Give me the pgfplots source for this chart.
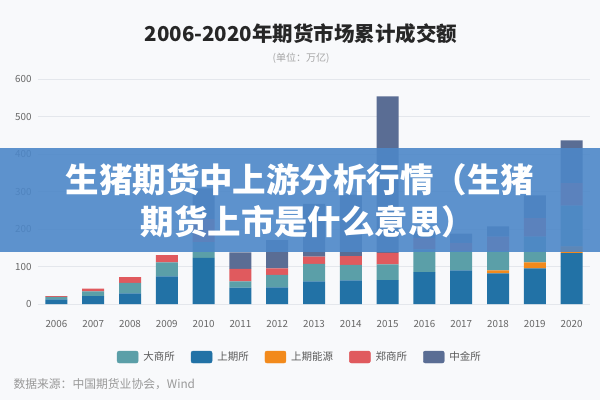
\documentclass[border=0pt]{standalone}
\usepackage{pgfplots}
\pgfplotsset{compat=1.18}
\usepackage{pgfplotstable}
\usepackage{fontspec}
\setmainfont{Noto Sans CJK SC}
\definecolor{bgcol}{HTML}{F8F9FB}
\definecolor{gridcol}{HTML}{E4E7EC}
\definecolor{labelcol}{HTML}{666666}
\definecolor{dce}{HTML}{5B9FA8}
\definecolor{shfe}{HTML}{2272A6}
\definecolor{ine}{HTML}{F28A1C}
\definecolor{zce}{HTML}{E05A5E}
\definecolor{cffex}{HTML}{5A6D94}
\definecolor{bannercol}{HTML}{4D87C8}

\pgfplotstableread{
idx shfe  ine  dce   zce   cffex
0   12.6  0    6.3   2.1   0
1   21.3  0    12.7  7.0   0
2   28.5  0    27.6  15.8  0
3   73.8  0    37.2  19.5  0
4   123.5 0    41.7  61.7  82.1
5   43.5  0    16.9  33.4  43.8
6   44.6  0    33.1  17.3  75.8
7   60.3  0    47.0  18.9  141.0
8   63.0  0    41.5  23.5  164.0
9   63.6  0    41.9  31.0  417.8
10  84.9  0    61.2  30.6  18.2
11  89.9  0    52.0  21.4  24.6
12  82.0  8.0  52.0  38.0  27.0
13  95.0  16.0 69.0  49.0  61.0
14  136.0 18.0 109.0 60.0  114.0
}\data

\begin{document}
\begin{tikzpicture}
\fill[bgcol] (0pt,0pt) rectangle (600pt,400pt);
\useasboundingbox (0pt,0pt) rectangle (600pt,400pt);
\begin{axis}[
  at={(38pt,96pt)}, anchor=south west,
  width=552pt, height=224.7pt, scale only axis,
  xmin=-0.5, xmax=14.5, ymin=0, ymax=600,
  ybar stacked, bar width=22pt,
  xtick={0,...,14},
  xticklabels={2006,2007,2008,2009,2010,2011,2012,2013,2014,2015,2016,2017,2018,2019,2020},
  ytick={0,100,...,600},
  ymajorgrids, grid style={draw=gridcol, line width=0.7pt},
  axis line style={draw=none},
  major tick style={draw=none},
  tick label style={font=\fontsize{9.8}{11}\selectfont, text=labelcol},
  /pgf/number format/assume math mode=true,
  yticklabel style={xshift=-3pt},
  xticklabel style={yshift=-13pt},
  legend columns=5,
  legend style={at={(0.4746,-0.236)}, anchor=center, draw=none, fill=none,
    font=\fontsize{10.5}{12}\selectfont, text=black!65,
    /tikz/every odd column/.append style={column sep=3pt},
    /tikz/every even column/.append style={column sep=14pt}},
]
\addplot[fill=shfe, draw=none, forget plot] table[x=idx, y=shfe] {\data};
\addplot[fill=ine, draw=none, forget plot] table[x=idx, y=ine] {\data};
\addplot[fill=dce, draw=none, forget plot] table[x=idx, y=dce] {\data};
\addplot[fill=zce, draw=none, forget plot] table[x=idx, y=zce] {\data};
\addplot[fill=cffex, draw=none, forget plot] table[x=idx, y=cffex] {\data};
\addlegendimage{legend image code/.code={\fill[dce, rounded corners=2pt] (0pt,-6pt) rectangle (21pt,6pt);}}
\addlegendentry{大商所}
\addlegendimage{legend image code/.code={\fill[shfe, rounded corners=2pt] (0pt,-6pt) rectangle (21pt,6pt);}}
\addlegendentry{上期所}
\addlegendimage{legend image code/.code={\fill[ine, rounded corners=2pt] (0pt,-6pt) rectangle (21pt,6pt);}}
\addlegendentry{上期能源}
\addlegendimage{legend image code/.code={\fill[zce, rounded corners=2pt] (0pt,-6pt) rectangle (21pt,6pt);}}
\addlegendentry{郑商所}
\addlegendimage{legend image code/.code={\fill[cffex, rounded corners=2pt] (0pt,-6pt) rectangle (21pt,6pt);}}
\addlegendentry{中金所}
\end{axis}
\node[font=\fontsize{20.5}{22}\selectfont\bfseries, text=black!85] at (301pt,366.5pt) {2006-2020年期货市场累计成交额};
\node[font=\fontsize{10}{12}\selectfont, text=black!35] at (301pt,342pt) {(单位：万亿)};
\node[anchor=west, font=\fontsize{11.8}{13}\selectfont, text=black!40] at (10pt,16pt) {数据来源：中国期货业协会，Wind};
\fill[bannercol, fill opacity=0.9] (0pt,148pt) rectangle (600pt,252pt);
\node[text=white, font=\fontsize{33.5}{42}\selectfont\bfseries, align=center] at (300pt,199pt) {生猪期货中上游分析行情（生猪\\\hspace*{16pt}期货上市是什么意思）};
\end{tikzpicture}
\end{document}
